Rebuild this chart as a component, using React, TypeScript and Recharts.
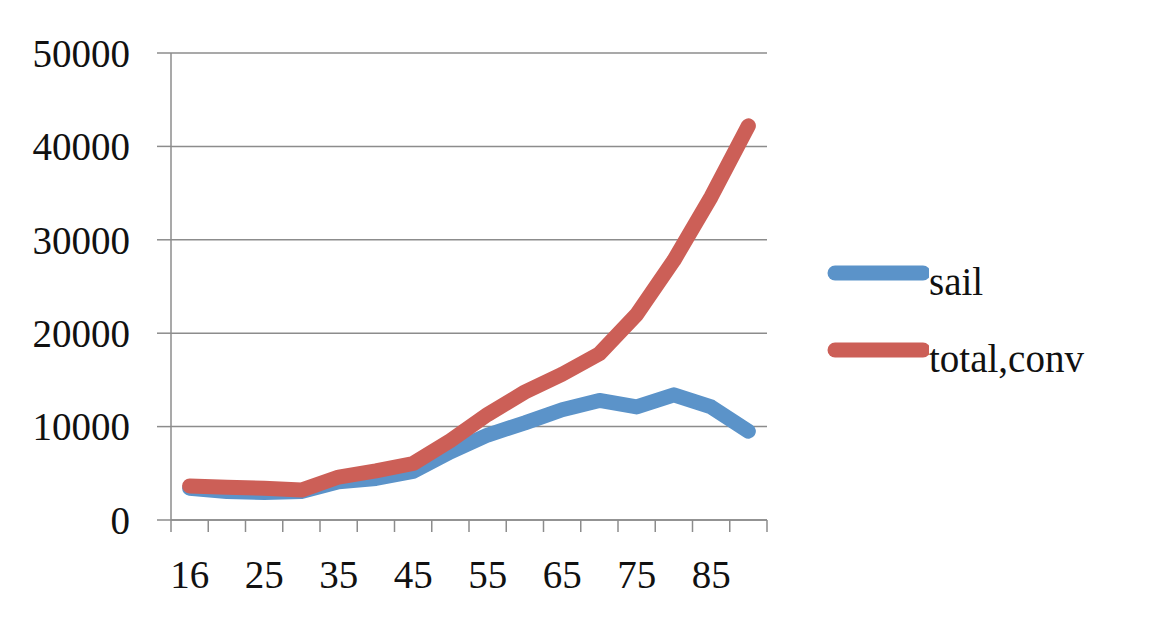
import React from "react";
import { LineChart, Line, XAxis, YAxis, CartesianGrid, Legend } from "recharts";

// x categories (every other label is shown, like the original)
const years = ["16", "20", "25", "30", "35", "40", "45", "50", "55", "60", "65", "70", "75", "80", "85", "90"];
const sail = [3400, 3050, 2950, 3050, 4100, 4450, 5200, 7300, 9100, 10400, 11800, 12800, 12100, 13400, 12100, 9500];
const totalConv = [3650, 3500, 3400, 3200, 4600, 5250, 6050, 8500, 11300, 13700, 15600, 17800, 22000, 27800, 34600, 42200];
const yTicks = [0, 10000, 20000, 30000, 40000, 50000];

const BLUE = "#5b93c9";
const RED = "#cc5f57";
const GRID = "#8c8c8c";
const FONT = '"Liberation Serif", "Times New Roman", serif';

const data = years.map((y, i) => ({ year: y, sail: sail[i], total: totalConv[i] }));

// Excel-style tick: marks sit on the band edges, label on every other category
function XTick({ x, y, payload, index }: any) {
  const half = payload?.offset ?? 0;
  const top = y - 40;
  return (
    <g>
      <line x1={x - half} y1={top} x2={x - half} y2={top + 12} stroke={GRID} strokeWidth={1.5} />
      {index === years.length - 1 && (
        <line x1={x + half} y1={top} x2={x + half} y2={top + 12} stroke={GRID} strokeWidth={1.5} />
      )}
      {index % 2 === 0 && (
        <text x={x} y={y} dy="0.71em" textAnchor="middle" fill="#111" fontSize={39} fontFamily={FONT}>
          {payload.value}
        </text>
      )}
    </g>
  );
}

function LegendBox({ payload }: any) {
  return (
    <div style={{ fontFamily: FONT, fontSize: 39, color: "#111" }}>
      {(payload || []).map((p: any) => (
        <div key={p.value} style={{ display: "flex", alignItems: "center", height: 77 }}>
          <svg width={102} height={20} style={{ marginTop: -18 }}>
            <line x1={8} y1={10} x2={96} y2={10} stroke={p.color} strokeWidth={15} strokeLinecap="round" />
          </svg>
          <span>{p.value}</span>
        </div>
      ))}
    </div>
  );
}

export default function App() {
  return (
    <div style={{ position: "absolute", left: 0, top: 0, background: "#fff" }}>
      <LineChart width={1159} height={625} data={data} margin={{ top: 53, right: 392, left: 0, bottom: 45 }}>
        <CartesianGrid vertical={false} stroke={GRID} strokeWidth={1.5} />
        <XAxis
          dataKey="year"
          scale="band"
          interval={0}
          height={60}
          stroke={GRID}
          strokeWidth={1.5}
          tickLine={false}
          tickSize={0}
          tickMargin={40}
          tick={<XTick />}
        />
        <YAxis
          domain={[0, 50000]}
          ticks={yTicks}
          width={171}
          tickSize={14}
          tickMargin={27}
          stroke={GRID}
          strokeWidth={1.5}
          tick={{ fill: "#111", fontSize: 39, fontFamily: FONT }}
        />
        <Legend
          layout="vertical"
          align="center"
          verticalAlign="middle"
          content={<LegendBox />}
          wrapperStyle={{ position: "absolute", left: 827, top: 243, width: 320 }}
        />
        <Line
          name="sail"
          dataKey="sail"
          type="linear"
          stroke={BLUE}
          strokeWidth={15}
          strokeLinecap="round"
          strokeLinejoin="round"
          dot={false}
          activeDot={false}
          isAnimationActive={false}
        />
        <Line
          name="total,conv"
          dataKey="total"
          type="linear"
          stroke={RED}
          strokeWidth={15}
          strokeLinecap="round"
          strokeLinejoin="round"
          dot={false}
          activeDot={false}
          isAnimationActive={false}
        />
      </LineChart>
    </div>
  );
}
